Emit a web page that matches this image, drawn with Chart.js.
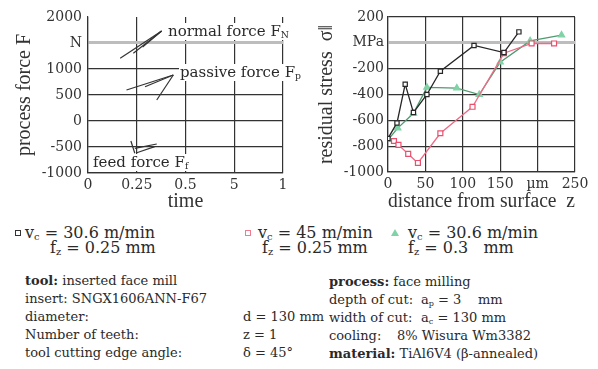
<!DOCTYPE html>
<html><head><meta charset="utf-8">
<script src="https://cdn.jsdelivr.net/npm/chart.js@4"></script>
<style>
body{margin:0;width:598px;height:369px;background:#fff;position:relative;overflow:hidden;font-family:"DejaVu Serif",serif;color:#2a2a2a}
.c{position:absolute;top:0;height:215px}
.t{position:absolute;white-space:pre;line-height:1}
.lab{font-size:15px;background:#fff;padding:1px 1px}
.lg{font-size:16px}
.bt{font-size:13px}
sub{font-size:0.62em;vertical-align:-0.25em;line-height:0}
.m{position:absolute;width:4px;height:4px;border:1.5px solid #333;background:#fff}
.tri{position:absolute;width:0;height:0;border-left:4px solid transparent;border-right:4px solid transparent;border-bottom:7px solid #7fd3a6}
b{font-weight:bold}
</style></head>
<body>
<div class="c" style="left:0;width:300px"><canvas id="left"></canvas></div>
<div class="c" style="left:300px;width:298px"><canvas id="right"></canvas></div>

<div class="t lab" style="left:167px;top:23px">normal force F<sub>N</sub></div>
<div class="t lab" style="left:179px;top:64px">passive force F<sub>p</sub></div>
<div class="t lab" style="left:92px;top:154px">feed force F<sub>f</sub></div>

<span class="m" style="left:15px;top:230px;border-color:#333"></span>
<div class="t lg" style="left:25px;top:225px">v<sub>c</sub> = 30.6 m/min</div>
<div class="t lg" style="left:50px;top:240px">f<sub>z</sub> = 0.25 mm</div>
<span class="m" style="left:245px;top:230px;border-color:#f07a90"></span>
<div class="t lg" style="left:258px;top:225px">v<sub>c</sub> = 45 m/min</div>
<div class="t lg" style="left:262px;top:240px">f<sub>z</sub> = 0.25 mm</div>
<span class="tri" style="left:391px;top:229px"></span>
<div class="t lg" style="left:408px;top:225px">v<sub>c</sub> = 30.6 m/min</div>
<div class="t lg" style="left:408px;top:240px">f<sub>z</sub> = 0.3   mm</div>

<div class="t bt" style="left:25px;top:274px"><b>tool:</b> inserted face mill</div>
<div class="t bt" style="left:25px;top:292px">insert: SNGX1606ANN-F67</div>
<div class="t bt" style="left:25px;top:310px">diameter:</div>
<div class="t bt" style="left:243px;top:310px">d = 130 mm</div>
<div class="t bt" style="left:25px;top:328px">Number of teeth:</div>
<div class="t bt" style="left:243px;top:328px">z = 1</div>
<div class="t bt" style="left:25px;top:346px">tool cutting edge angle:</div>
<div class="t bt" style="left:243px;top:346px">δ = 45°</div>

<div class="t bt" style="left:329px;top:275px"><b>process:</b> face milling</div>
<div class="t bt" style="left:329px;top:293px">depth of cut:</div>
<div class="t bt" style="left:421px;top:293px">a<sub>p</sub> = 3    mm</div>
<div class="t bt" style="left:329px;top:311px">width of cut:</div>
<div class="t bt" style="left:421px;top:311px">a<sub>c</sub> = 130 mm</div>
<div class="t bt" style="left:329px;top:329px">cooling:</div>
<div class="t bt" style="left:397px;top:329px">8% Wisura Wm3382</div>
<div class="t bt" style="left:329px;top:347px"><b>material:</b> TiAl6V4 (β-annealed)</div>

<script>
// ---- left chart: process force ----
const timeTickLabels = ['0', '0.25', '0.5', '5', '1'];
const forceUnitTick = 1500;           // labelled "N"
const normalArrow = [[[0.66,1206],[1.51,1731]], [[0.93,1302],[1.51,1731]], [[1.12,1420],[1.51,1731]]];
const passiveArrow = [[[0.79,596],[1.75,885]], [[1.17,660],[1.75,885]], [[1.41,404],[1.75,885]]];
const feedArrow = [[[0.88,-385],[0.96,-621]], [[0.96,-525],[1.41,-442]], [[1.0,-610],[1.37,-494]]];

// ---- right chart: residual stress ----
const depthBlack = [0, 12, 23, 34, 52, 70, 115, 155, 175];
const stressBlack = [-740, -620, -320, -540, -400, -220, -20, -75, 85];
const depthRed = [8, 14, 27, 40, 70, 113, 155, 192, 222];
const stressRed = [-760, -790, -860, -930, -700, -495, -80, -5, -5];
const depthGreen = [0, 13, 34, 52, 92, 122, 150, 190, 232];
const stressGreen = [-750, -660, -545, -345, -350, -400, -150, 15, 60];
const depthTickLabelAt200 = 'µm';
const stressUnitTick = 0;             // labelled "MPa"

const GRID = '#333';
const tickFont = {family: 'DejaVu Serif', size: 14};
const titleFont = {family: 'Liberation Serif', size: 20};

function pts(xs, ys){ return xs.map((x,i)=>({x:x, y:ys[i]})); }
function strokes(list){
  return list.map(s => ({data: s.map(p=>({x:p[0], y:p[1]})), borderColor:'#333', borderWidth:1.2, pointRadius:0, fill:false, tension:0}));
}

new Chart(document.getElementById('left'), {
  type: 'line',
  data: {datasets: [...strokes(normalArrow), ...strokes(passiveArrow), ...strokes(feedArrow)]},
  options: {
    animation:false, responsive:true, maintainAspectRatio:false,
    layout:{padding:{top:17, right:17, left:0, bottom:0}},
    plugins:{legend:{display:false}, tooltip:{enabled:false}},
    scales:{
      x:{type:'linear', min:0, max:4,
         afterFit:s=>{s.height=42;},
         ticks:{stepSize:1, padding:4, font:tickFont, color:'#333', maxRotation:0,
                callback:v=>timeTickLabels[v]},
         grid:{drawTicks:false, color:GRID, lineWidth:1.2},
         border:{color:GRID, width:1.2},
         title:{display:true, text:'time', font:titleFont, color:'#333', padding:{top:0,bottom:1}}},
      y:{min:-1000, max:2000,
         afterFit:s=>{s.width=88;},
         ticks:{stepSize:500, padding:6, font:tickFont, color:'#333',
                callback:v=> v===forceUnitTick ? 'N' : String(v)},
         grid:{drawTicks:false,
               color:c=> c.tick.value===forceUnitTick ? '#bdbdbd' : (c.tick.value===2000 ? 'rgba(0,0,0,0)' : GRID),
               lineWidth:c=> c.tick.value===forceUnitTick ? 3 : 1.2},
         border:{color:GRID, width:1.2},
         title:{display:true, text:'process force F', font:titleFont, color:'#333', padding:{top:13,bottom:0}}}
    }
  }
});

new Chart(document.getElementById('right'), {
  type: 'line',
  data: {datasets: [
    {data: pts(depthBlack, stressBlack), borderColor:'#262626', borderWidth:1.3, pointStyle:'rect', pointRadius:3, pointBorderColor:'#262626', pointBackgroundColor:'#fff', pointBorderWidth:1.2, tension:0},
    {data: pts(depthRed, stressRed), borderColor:'#f06a86', borderWidth:1.3, pointStyle:'rect', pointRadius:3.5, pointBorderColor:'#e8506e', pointBackgroundColor:'#fff', pointBorderWidth:1.2, tension:0},
    {data: pts(depthGreen, stressGreen), borderColor:'#4f9a70', borderWidth:1.3, pointStyle:'triangle', pointRadius:3.5, pointBorderColor:'#7fd3a6', pointBackgroundColor:'#7fd3a6', tension:0}
  ]},
  options: {
    animation:false, responsive:true, maintainAspectRatio:false,
    layout:{padding:{top:17, right:23, left:0, bottom:0}},
    plugins:{legend:{display:false}, tooltip:{enabled:false}},
    scales:{
      x:{type:'linear', min:0, max:250,
         afterFit:s=>{s.height=43;},
         ticks:{stepSize:50, padding:4, font:tickFont, color:'#333', maxRotation:0,
                callback:v=> v===200 ? depthTickLabelAt200 : String(v)},
         grid:{drawTicks:false, color:GRID, lineWidth:1.2},
         border:{color:GRID, width:1.2},
         title:{display:true, text:'distance from surface  z', font:titleFont, color:'#333', padding:{top:0,bottom:1}}},
      y:{min:-1000, max:200,
         afterFit:s=>{s.width=88;},
         ticks:{stepSize:200, padding:4, font:tickFont, color:'#333',
                callback:v=> v===stressUnitTick ? 'MPa' : String(v)},
         grid:{drawTicks:false,
               color:c=> c.tick.value===stressUnitTick ? '#bdbdbd' : GRID,
               lineWidth:c=> c.tick.value===stressUnitTick ? 3 : 1.2},
         border:{color:GRID, width:1.2},
         title:{display:true, text:'residual stress  σ‖', font:titleFont, color:'#333', padding:{top:15,bottom:0}}}
    }
  }
});
</script>
</body></html>
